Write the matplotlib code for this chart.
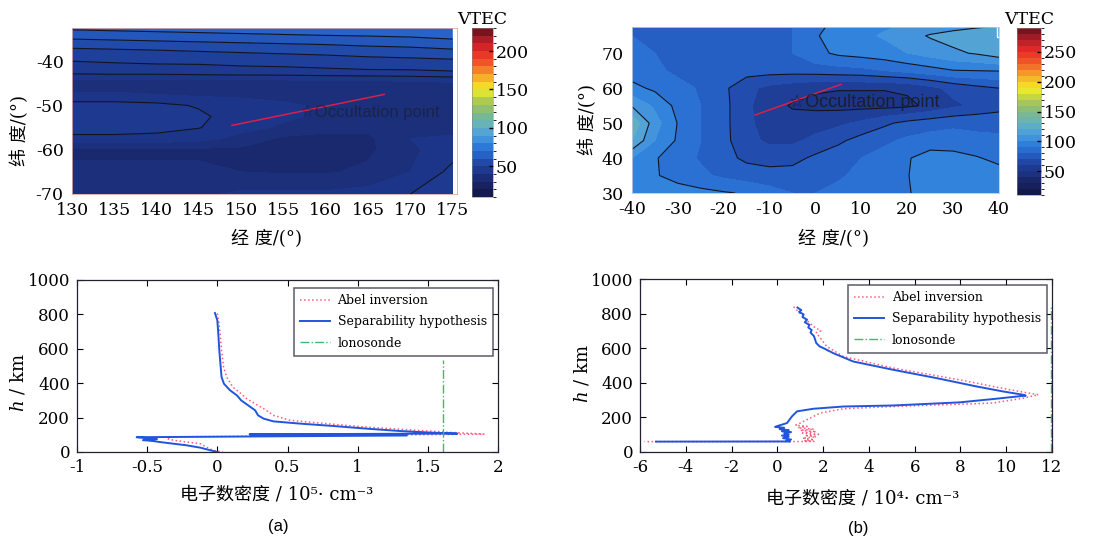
import numpy as np
import matplotlib
matplotlib.use('Agg')
import matplotlib.pyplot as plt
from matplotlib.colors import LinearSegmentedColormap, BoundaryNorm, Normalize
from matplotlib.cm import ScalarMappable
from matplotlib.patches import Rectangle

plt.rcParams['axes.unicode_minus'] = False
plt.rcParams['mathtext.fontset'] = 'dejavuserif'

SERIF = ['DejaVu Serif', 'Noto Sans CJK SC']
SANS = ['Liberation Sans', 'DejaVu Sans']

# ---------------- data: map (a) ----------------
lon_a = [130, 135, 140, 145, 150, 155, 160, 165, 170, 175]
lat_a = [-70, -65, -60, -57.5, -55, -52.5, -50, -47.5, -45, -42.5, -40, -37.5, -35, -32.5]
vtec_a = [
    [33, 33, 33, 34, 36, 36, 36, 37, 40, 42],
    [31, 31, 31, 31, 30, 29.5, 29.5, 31, 35, 41.5],
    [29, 29, 29, 29, 29, 29, 29, 29, 34, 38],
    [38.5, 38.5, 38, 37, 33, 29, 29, 29, 35, 36],
    [42.5, 42.5, 42, 40.2, 37, 34, 31, 31, 33, 33],
    [43, 43, 42.5, 41, 37.5, 36, 34, 32, 32, 32],
    [42, 42, 41.5, 39.5, 37, 36, 34, 33, 32, 32],
    [36, 36, 35, 34, 34, 33, 32, 31, 31, 31],
    [31, 31, 31, 31, 31, 31.5, 32, 32, 33, 34],
    [41.5, 42, 42, 42.5, 43, 43, 43.5, 44, 44, 44.5],
    [45, 45.5, 46, 46, 46.5, 47, 47.5, 48, 48.5, 49],
    [49, 49.5, 50, 50.5, 51, 51.5, 52, 53, 53.5, 54.5],
    [55, 55.5, 56, 56.5, 57, 57.5, 58, 58.5, 59, 60],
    [61, 61.5, 62, 62.5, 63, 63.5, 64, 64, 64.5, 65],
]
lines_a = [40, 45, 50, 55, 60]
cbar_a_ticks = [50, 100, 150, 200]
occ_a_lon = [148.9, 166.9]
occ_a_lat = [-54.5, -47.5]
occ_a_txt = (157.0, -51.6)

# ---------------- data: map (b) ----------------
lon_b = [-40, -35, -30, -25, -20, -15, -10, -5, 0, 5, 10, 15, 20, 25, 30, 35, 40]
lat_b = [30, 35, 40, 45, 50, 55, 60, 65, 70, 75, 80]
vtec_b = [
    [100, 97, 95, 93, 91, 89, 84, 80, 80, 82, 84, 86, 89, 95, 98, 98, 97],
    [96, 91, 86, 82, 78, 75, 74, 74, 76, 79, 82, 85, 89.5, 96, 98, 97, 95],
    [100, 91, 84, 79, 73, 68, 66, 67, 72, 76, 80, 84, 89, 95, 94, 91, 87],
    [120, 100, 88.5, 80, 73, 63, 58, 58, 63, 68, 74, 78, 82, 84, 84, 82, 82],
    [128, 104, 89.5, 80, 73, 62, 56, 54, 55, 58, 62, 68, 73, 76, 78, 78, 77],
    [109, 98, 87, 80, 73, 62, 54, 49, 48, 47, 47, 47, 48, 52, 58, 62, 66],
    [93, 88, 83, 79, 72, 63, 57, 54, 51, 50.5, 50.5, 50.5, 51.5, 57, 63, 67, 70],
    [85, 82, 78, 76, 75, 74, 74, 74, 75, 76, 77, 80, 83, 86, 89.5, 90, 90.5],
    [82, 80, 76, 73, 73, 74, 76, 80, 87, 92, 94, 96, 100, 104, 108, 111, 116],
    [80, 78, 75, 73, 73, 74, 76, 80, 89, 95, 98, 101, 106, 111, 114, 117, 120],
    [80, 80, 78, 76, 76, 77, 78, 80, 85, 92, 95, 97, 98, 98, 100, 101, 102],
]
lines_b = [50, 70, 90, 110]
cbar_b_ticks = [50, 100, 150, 200, 250]
occ_b_lon = [-13.2, 5.6]
occ_b_lat = [52.3, 61.1]
occ_b_txt = (-5.8, 56.0)

# ---------------- data: profile (a), 1e5 cm^-3 ----------------
blue_a_x = [-0.017, 0.0, 0.007, 0.014, 0.024, 0.03, 0.047, 0.09, 0.14, 0.17, 0.22, 0.27,
            0.29, 0.33, 0.40, 0.59, 0.83, 1.06, 1.30, 1.54, 1.71, 0.23, 1.35, -0.575,
            -0.50, -0.43, -0.53, -0.46, -0.41, -0.31, -0.22, -0.12, -0.05, 0.0]
blue_a_h = [808, 765, 688, 591, 494, 436, 397, 359, 329, 300, 271, 242,
            213, 194, 178, 165, 151, 136, 122, 112, 107, 103, 96, 86,
            81, 75, 69, 64, 58, 48, 39, 25, 10, 0]
red_a_x = [0.0, 0.01, 0.02, 0.03, 0.045, 0.07, 0.11, 0.16, 0.21, 0.27, 0.33, 0.40,
           0.52, 0.83, 1.06, 1.42, 1.66, 1.90, -0.33, -0.36, -0.31, -0.22, -0.12,
           -0.08, -0.03, 0.04]
red_a_h = [805, 760, 690, 590, 490, 430, 378, 345, 310, 280, 252, 213,
           184, 161, 145, 126, 114, 104, 88, 78, 68, 58, 48, 29, 10, 0]
iono_a_x = [1.61, 1.61]
iono_a_h = [0, 537]
xticks_a = [-1, -0.5, 0, 0.5, 1, 1.5, 2]
xticklabels_a = ['-1', '-0.5', '0', '0.5', '1', '1.5', '2']

# ---------------- data: profile (b), 1e4 cm^-3 ----------------
blue_b_x = [0.88, 1.05, 0.95, 1.15, 1.10, 1.30, 1.20, 1.40, 1.35, 1.50, 1.45, 1.60, 1.65,
            1.70, 1.85, 2.02, 2.45, 3.32, 5.07, 6.96, 8.70, 9.86, 10.73, 10.85, 9.42,
            7.97, 5.07, 2.89, 1.58, 0.86, 0.64, 0.42, 0.0, -0.10, 0.30, 0.10, 0.50,
            0.20, 0.60, 0.30, 0.50, 0.20, 0.50, 0.25, 0.60, 0.40, 0.55, -5.3]
blue_b_h = [835, 820, 810, 795, 780, 765, 750, 735, 720, 705, 690, 670, 650,
            630, 610, 600, 571, 523, 475, 427, 379, 350, 331, 326, 306,
            287, 269, 263, 250, 235, 206, 167, 150, 145, 140, 132, 126,
            120, 115, 108, 100, 95, 88, 80, 72, 65, 61, 60]
red_b_x = [0.71, 1.0, 1.3, 1.58, 1.9, 1.7, 2.16, 2.89, 5.07, 7.97, 10.15, 11.4, 10.73,
           9.42, 5.07, 2.89, 1.87, 1.0, 0.8, 1.3, 0.9, 1.6, 1.0, 1.7, 1.1, 1.8, 1.2,
           1.7, 1.1, 1.6, 1.2, 1.6, 0.5, -5.8]
red_b_h = [840, 800, 760, 725, 700, 690, 610, 552, 485, 417, 360, 331, 311,
           283, 263, 250, 225, 167, 155, 148, 140, 132, 125, 118, 110, 102, 95,
           88, 80, 72, 65, 61, 60, 60]
iono_b_x = [11.95, 11.95]
iono_b_h = [0, 840]
xticks_b = [-6, -4, -2, 0, 2, 4, 6, 8, 10, 12]

legend_labels = ['Abel inversion', 'Separability hypothesis', 'lonosonde']

# ---------------- style ----------------
anchors = [
    (0.00, (20, 25, 75)), (0.07, (25, 38, 105)), (0.13, (29, 54, 138)),
    (0.17, (31, 64, 155)), (0.21, (35, 84, 184)), (0.25, (40, 104, 206)),
    (0.30, (48, 130, 220)), (0.36, (78, 158, 222)), (0.42, (100, 178, 190)),
    (0.50, (130, 186, 130)), (0.57, (175, 202, 80)), (0.64, (245, 240, 40)),
    (0.72, (245, 170, 40)), (0.80, (240, 90, 40)), (0.88, (230, 40, 40)),
    (0.95, (170, 30, 40)), (1.00, (120, 20, 30)),
]
cmap = LinearSegmentedColormap.from_list(
    'vtec', [(p, tuple(c / 255 for c in col)) for p, col in anchors])

RED = '#ff5a7a'
BLUE = '#2255dd'
GREEN = '#3dbb6a'

fig = plt.figure(figsize=(11.11, 5.41), dpi=100)
W, H = 1111, 541


def px_axes(x0, y0, x1, y1):
    return fig.add_axes([x0 / W, 1 - y1 / H, (x1 - x0) / W, (y1 - y0) / H])


def draw_map(ax, cax, lon, lat, vals, vmin, vmax, fill_step, line_lv, cticks,
             xlim, ylim, xticks, yticks, occ_lon, occ_lat, occ_txt, txt_size,
             txt_alpha, spine_col, box):
    V = np.array(vals)
    norm = Normalize(vmin, vmax)
    ax.contourf(lon, lat, V, levels=np.arange(vmin, vmax + 0.1, fill_step),
                cmap=cmap, norm=norm)
    ax.contour(lon, lat, V, levels=line_lv, colors='#141420', linewidths=0.8)
    ax.plot(occ_lon, occ_lat, color='#d8204a', lw=1.1)
    ax.text(occ_txt[0], occ_txt[1], '☆Occultation point', family=SANS,
            fontsize=txt_size, color='#1a1a22', alpha=txt_alpha,
            ha='left', va='center')
    ax.set_xlim(*xlim)
    ax.set_ylim(*ylim)
    ax.set_xticks(xticks)
    ax.set_yticks(yticks)
    ax.tick_params(length=0, labelsize=12.5, pad=6)
    for lab in ax.get_xticklabels() + ax.get_yticklabels():
        lab.set_family(SERIF)
    for s in ax.spines.values():
        s.set_color(spine_col)
        s.set_linewidth(0.6)
    ax.add_patch(Rectangle((box[0], box[1]), 0.02, 0.1, transform=ax.transAxes,
                           fill=False, edgecolor='white', lw=1.0, clip_on=True))
    bnorm = BoundaryNorm(np.arange(vmin, vmax + 0.1, 10), cmap.N)
    cb = fig.colorbar(ScalarMappable(norm=bnorm, cmap=cmap), cax=cax,
                      ticks=cticks)
    cb.outline.set_linewidth(0.4)
    cb.outline.set_edgecolor('#888888')
    cax.tick_params(direction='in', length=3, width=1, pad=2, labelsize=12.5)
    for lab in cax.get_yticklabels():
        lab.set_family(SERIF)
    cax.set_title('VTEC', family=SERIF, fontsize=12.5, pad=3)


# ---- map (a)
ax1 = px_axes(72, 28, 457, 194)
cax1 = px_axes(472, 28, 493, 197)
draw_map(ax1, cax1, lon_a, lat_a, vtec_a, 10, 230, 5, lines_a, cbar_a_ticks,
         (130, 175.5), (-70, -32.5), list(range(130, 176, 5)), [-70, -60, -50, -40],
         occ_a_lon, occ_a_lat, occ_a_txt, 12, 0.55, '#d9aaaa', (0.99, 0.93))
ax1.set_xlabel('经 度/(°)', family=SERIF, fontsize=13)
ax1.set_ylabel('纬 度/(°)', family=SERIF, fontsize=13)
ax1.xaxis.set_label_coords(0.506, -0.27)
ax1.xaxis.label.set_va('center')
ax1.yaxis.set_label_coords(-0.135, 0.385)
ax1.yaxis.label.set_va('center')

# ---- map (b)
ax2 = px_axes(632, 27, 999, 193)
cax2 = px_axes(1017, 28, 1041, 195)
draw_map(ax2, cax2, lon_b, lat_b, vtec_b, 10, 290, 10, lines_b, cbar_b_ticks,
         (-40, 40), (30, 77.5), list(range(-40, 41, 10)), [30, 40, 50, 60, 70],
         occ_b_lon, occ_b_lat, occ_b_txt, 13, 0.85, '#c0c8d8', (0.994, 0.94))
ax2.set_xlabel('经 度/(°)', family=SERIF, fontsize=13)
ax2.set_ylabel('纬 度/(°)', family=SERIF, fontsize=13)
ax2.xaxis.set_label_coords(0.548, -0.277)
ax2.xaxis.label.set_va('center')
ax2.yaxis.set_label_coords(-0.12, 0.44)
ax2.yaxis.label.set_va('center')


def draw_profile(ax, bx, bh, rx, rh, ix, ih, xlim, xticks, xlabels, xlabel,
                 xl_pos, yl_pos, leg_anchor):
    ax.plot(rx, rh, color=RED, ls=':', lw=1.1, label=legend_labels[0])
    ax.plot(bx, bh, color=BLUE, ls='-', lw=1.4, label=legend_labels[1])
    ax.plot(ix, ih, color=GREEN, ls='-.', lw=1.0, label=legend_labels[2])
    ax.set_xlim(*xlim)
    ax.set_ylim(0, 1000)
    ax.set_xticks(xticks)
    ax.set_xticklabels(xlabels)
    ax.set_yticks([0, 200, 400, 600, 800, 1000])
    ax.tick_params(direction='in', length=4, width=0.8, top=True, right=True,
                   labelsize=12, pad=5)
    for lab in ax.get_xticklabels() + ax.get_yticklabels():
        lab.set_family(SERIF)
    for s in ax.spines.values():
        s.set_color('#222233')
        s.set_linewidth(0.9)
    ax.set_xlabel(xlabel, family=SERIF, fontsize=13)
    ax.set_ylabel('$h$ / km', family=SERIF, fontsize=13)
    ax.xaxis.set_label_coords(*xl_pos)
    ax.xaxis.label.set_va('center')
    ax.yaxis.set_label_coords(*yl_pos)
    ax.yaxis.label.set_va('center')
    leg = ax.legend(loc='upper right', bbox_to_anchor=leg_anchor, borderaxespad=0,
                    prop={'family': 'DejaVu Serif', 'size': 9}, frameon=True,
                    fancybox=False, handlelength=2.4, handletextpad=0.6,
                    labelspacing=0.65, borderpad=0.5)
    leg.get_frame().set_edgecolor('#333344')
    leg.get_frame().set_linewidth(1.1)


ax3 = px_axes(77, 280, 498, 452)
draw_profile(ax3, blue_a_x, blue_a_h, red_a_x, red_a_h, iono_a_x, iono_a_h,
             (-1, 2), xticks_a, xticklabels_a, '电子数密度 / 10⁵· cm⁻³',
             (0.475, -0.245), (-0.14, 0.40), (0.988, 0.953))

ax4 = px_axes(640, 279, 1052, 452)
draw_profile(ax4, blue_b_x, blue_b_h, red_b_x, red_b_h, iono_b_x, iono_b_h,
             (-6, 12), xticks_b, [str(t) for t in xticks_b], '电子数密度 / 10⁴· cm⁻³',
             (0.54, -0.27), (-0.14, 0.45), (0.988, 0.965))

fig.text(278 / W, 1 - 527 / H, '(a)', family=SANS, fontsize=12, ha='center', va='center')
fig.text(858 / W, 1 - 528 / H, '(b)', family=SANS, fontsize=12, ha='center', va='center')

fig.savefig('out.png', dpi=100, facecolor='white')
